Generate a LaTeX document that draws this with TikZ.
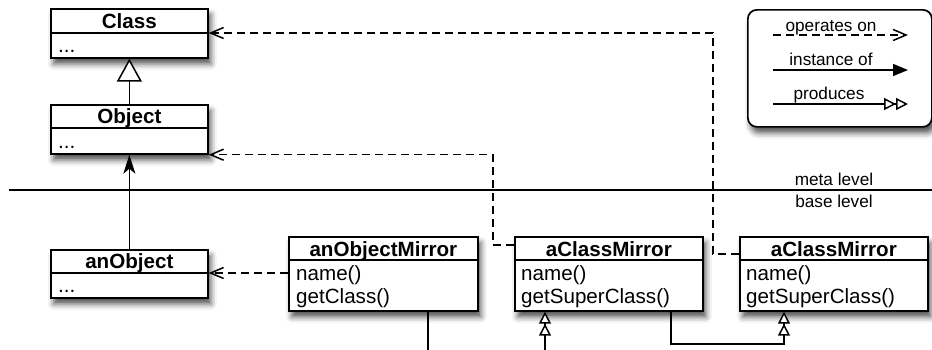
\documentclass[tikz,border=0pt]{standalone}
\usepackage{fontspec}
\setmainfont{Liberation Sans}
\usetikzlibrary{arrows.meta,shadows.blur}

\tikzset{
  boxshadow/.style={blur shadow={shadow xshift=3pt, shadow yshift=-6pt, shadow blur radius=6pt, shadow opacity=70}},
  umlbox/.style={draw, line width=1.7pt, fill=white, inner sep=0pt, anchor=north west, boxshadow},
  classbox/.style={umlbox, minimum width=157pt, minimum height=49pt},
  mirrorbox/.style={umlbox, minimum width=188pt, minimum height=74pt},
  divider/.style={line width=1.6pt},
  titletext/.style={inner sep=0pt, anchor=base, font=\fontsize{20.6pt}{24pt}\selectfont\bfseries},
  bodytext/.style={inner sep=0pt, anchor=base west, font=\fontsize{20.6pt}{24pt}\selectfont},
  smalltext/.style={inner sep=0pt, anchor=base, font=\fontsize{17.2pt}{20pt}\selectfont},
  link/.style={line width=1.5pt},
  operates/.style={link, dash pattern=on 8pt off 5pt, -{Straight Barb[length=13pt, width=11pt, line width=1.5pt]}},
  instanceof/.style={link, -{Triangle[length=15pt, width=12pt]}},
  instancearrow/.style={link, -{Stealth[length=19pt, width=12pt, inset=5pt]}},
  produces/.style={link, -{Triangle[open, length=12pt, width=12pt, fill=white] Triangle[open, length=12pt, width=12pt, fill=white]}},
  inherits/.style={link, -{Triangle[open, length=23pt, width=25pt, fill=white]}},
}

\begin{document}
\begin{tikzpicture}[x=1pt, y=-1pt]
\useasboundingbox (0,0) rectangle (932,349);

% ---- meta level classes ----
\node[classbox] (cls) at (50,8) {};
\draw[divider] ([yshift=-25pt]cls.north west) -- ([yshift=-25pt]cls.north east);
\node[titletext] (cls-title) at ([yshift=-20pt]cls.north) {Class};
\node[bodytext] (cls-body) at ([xshift=8pt, yshift=-44pt]cls.north west) {...};

\node[classbox] (obj) at (50,104) {};
\draw[divider] ([yshift=-24pt]obj.north west) -- ([yshift=-24pt]obj.north east);
\node[titletext] (obj-title) at ([yshift=-19pt]obj.north) {Object};
\node[bodytext] (obj-body) at ([xshift=8pt, yshift=-44pt]obj.north west) {...};

% ---- base level objects ----
\node[classbox, minimum height=48pt] (anobj) at (50,249) {};
\draw[divider] ([yshift=-24pt]anobj.north west) -- ([yshift=-24pt]anobj.north east);
\node[titletext] (anobj-title) at ([yshift=-19pt]anobj.north) {anObject};
\node[bodytext] (anobj-body) at ([xshift=8pt, yshift=-43pt]anobj.north west) {...};

\node[mirrorbox, minimum width=189pt] (aom) at (288,236) {};
\draw[divider] ([yshift=-24pt]aom.north west) -- ([yshift=-24pt]aom.north east);
\node[titletext] (aom-title) at ([yshift=-20pt]aom.north) {anObjectMirror};
\node[bodytext] (aom-m1) at ([xshift=8pt, yshift=-44pt]aom.north west) {name()};
\node[bodytext] (aom-m2) at ([xshift=8pt, yshift=-67pt]aom.north west) {getClass()};

\node[mirrorbox] (acm1) at (514,236) {};
\draw[divider] ([yshift=-24pt]acm1.north west) -- ([yshift=-24pt]acm1.north east);
\node[titletext] (acm1-title) at ([yshift=-20pt]acm1.north) {aClassMirror};
\node[bodytext] (acm1-m1) at ([xshift=7pt, yshift=-44pt]acm1.north west) {name()};
\node[bodytext] (acm1-m2) at ([xshift=7pt, yshift=-67pt]acm1.north west) {getSuperClass()};

\node[mirrorbox] (acm2) at (739,236) {};
\draw[divider] ([yshift=-24pt]acm2.north west) -- ([yshift=-24pt]acm2.north east);
\node[titletext] (acm2-title) at ([yshift=-20pt]acm2.north) {aClassMirror};
\node[bodytext] (acm2-m1) at ([xshift=7pt, yshift=-44pt]acm2.north west) {name()};
\node[bodytext] (acm2-m2) at ([xshift=7pt, yshift=-67pt]acm2.north west) {getSuperClass()};

% ---- legend ----
\node[draw, line width=1.7pt, fill=white, rounded corners=9pt, inner sep=0pt, anchor=north west,
      minimum width=184pt, minimum height=117pt, boxshadow] (legend) at (747,9) {};
\coordinate (op-a) at (773,35);  \coordinate (op-b) at (908,35);
\coordinate (io-a) at (773,70);  \coordinate (io-b) at (908,70);
\coordinate (pr-a) at (773,104); \coordinate (pr-b) at (908,104);
\draw[operates] (op-a) -- (op-b);
\draw[instanceof] (io-a) -- (io-b);
\draw[produces] (pr-a) -- (pr-b);
\node[smalltext] (op-label) at (831,31) {operates on};
\node[smalltext] (io-label) at (831,65) {instance of};
\node[smalltext] (pr-label) at (829,99) {produces};

% ---- level separator ----
\coordinate (sep-a) at (9,190);
\coordinate (sep-b) at (932,190);
\draw[line width=1.5pt] (sep-a) -- (sep-b);
\node[smalltext] (meta-label) at (834,185) {meta level};
\node[smalltext] (base-label) at (834,207) {base level};

% ---- connectors ----
\draw[inherits] (obj.north) -- (cls.south);
\draw[instancearrow] (anobj.north) -- (obj.south);
\draw[operates] ([yshift=-37pt]aom.north west) -- ([yshift=-24pt]anobj.north east);
\draw[operates] ([yshift=-9pt]acm1.north west) -- ++(-21,0) |- (obj.south east);
\draw[operates] ([yshift=-18pt]acm2.north west) -- ++(-26,0) |- ([yshift=-25pt]cls.north east);

\coordinate (low1) at (428,350.4);
\coordinate (low2) at (545,350.4);
\draw[produces] ([xshift=140pt]aom.south west) -- (low1) -- (low2) -- ([xshift=31pt]acm1.south west);
\coordinate (low3) at (671,344);
\coordinate (low4) at (784,344);
\draw[produces] ([xshift=157pt]acm1.south west) -- (low3) -- (low4) -- ([xshift=45pt]acm2.south west);
\end{tikzpicture}
\end{document}
